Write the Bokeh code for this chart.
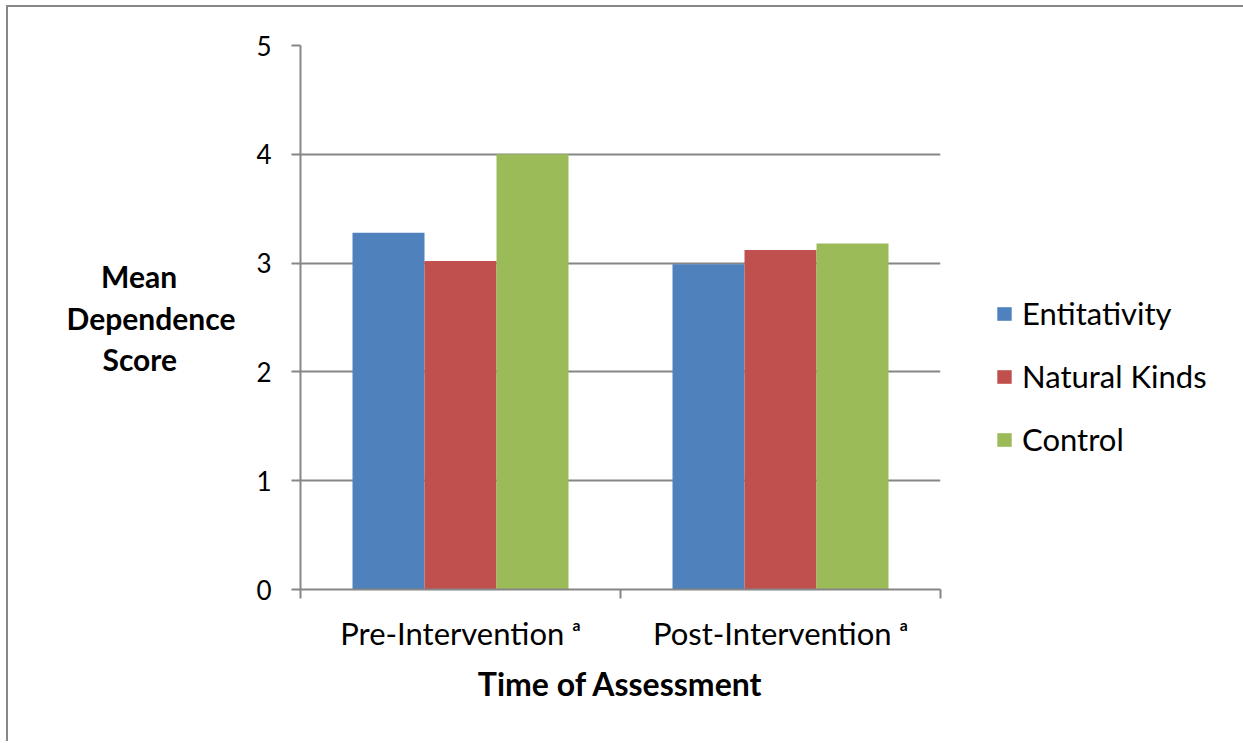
from bokeh.plotting import figure
from bokeh.models import (ColumnDataSource, Range1d, LinearAxis, FixedTicker, Grid,
                          Legend, LegendItem)
from bokeh.transform import dodge
from bokeh.embed import file_html
from bokeh.resources import INLINE

# ---- data ----
categories = ["Pre-Intervention \u1d43", "Post-Intervention \u1d43"]
series_names = ["Entitativity", "Natural Kinds", "Control"]
entitativity = [3.28, 2.99]
natural_kinds = [3.02, 3.12]
control = [4.00, 3.18]
y_ticks = [0, 1, 2, 3, 4, 5]
y_title_lines = ["Mean", "Dependence", "Score"]
x_title = "Time of Assessment"

colors = ["#4F81BD", "#C0504D", "#9BBB59"]
GRAY = "#868686"
FONT = "Lato"
NBSP = "\u00a0"
# trailing non-breaking spaces centre the shorter lines of the right-aligned title
y_title_pad = [8, 0, 8]

n = len(categories)
centers = [i + 0.5 for i in range(n)]
source = ColumnDataSource(dict(x=centers, cat=categories, ent=entitativity,
                               nat=natural_kinds, ctrl=control))

p = figure(x_range=Range1d(0, n), y_range=Range1d(0, 5),
           frame_width=640, frame_height=544,
           min_border_left=292, min_border_right=300,
           min_border_top=38, min_border_bottom=152,
           x_axis_location=None, y_axis_location=None,
           output_backend="svg", toolbar_location=None)
p.outline_line_color = None
p.background_fill_color = "white"
p.border_fill_color = "white"
p.styles = {"border-top": "2px solid #878787",
            "border-left": "2px solid #878787",
            "border-right": "2px solid #878787",
            "margin-left": "6px", "margin-top": "5px"}
# drop default grids
p.center = [r for r in p.center if not isinstance(r, Grid)]

# y axis
yax = LinearAxis(ticker=FixedTicker(ticks=y_ticks))
yax.axis_line_color = GRAY
yax.axis_line_width = 2
yax.major_tick_line_color = GRAY
yax.major_tick_line_width = 2
yax.major_tick_out = 9
yax.major_tick_in = 0
yax.minor_tick_line_color = None
yax.major_label_text_font = FONT
yax.major_label_text_font_size = "26px"
yax.major_label_text_color = "black"
yax.major_label_standoff = 20
yax.axis_label = "\n".join(line + NBSP * k for line, k in zip(y_title_lines, y_title_pad))
yax.axis_label_text_font = FONT
yax.axis_label_text_font_style = "bold"
yax.axis_label_text_font_size = "30px"
yax.axis_label_text_color = "black"
yax.axis_label_text_line_height = 1.14
yax.axis_label_standoff = 18
if "axis_label_orientation" in LinearAxis.properties():
    yax.axis_label_orientation = "horizontal"
p.add_layout(yax, "left")

# y grid
grid = Grid(dimension=1, ticker=FixedTicker(ticks=y_ticks))
grid.grid_line_color = GRAY
grid.grid_line_width = 2
p.add_layout(grid)

# x axis: line + boundary ticks
tax = LinearAxis(ticker=FixedTicker(ticks=list(range(n + 1))))
tax.axis_line_color = GRAY
tax.axis_line_width = 2
tax.major_tick_line_color = GRAY
tax.major_tick_line_width = 2
tax.major_tick_out = 9
tax.major_tick_in = 0
tax.minor_tick_line_color = None
tax.major_label_text_font_size = "0px"
tax.major_label_standoff = 0
tax.major_label_overrides = {i: "" for i in range(n + 1)}
p.add_layout(tax, "below")

# x axis: category labels + title
cax = LinearAxis(ticker=FixedTicker(ticks=centers))
cax.major_label_overrides = {c: lab for c, lab in zip(centers, categories)}
cax.axis_line_color = None
cax.major_tick_line_color = None
cax.major_tick_out = 0
cax.major_tick_in = 0
cax.minor_tick_line_color = None
cax.major_label_text_font = FONT
cax.major_label_text_font_size = "31px"
cax.major_label_text_color = "black"
cax.major_label_standoff = 15
cax.axis_label = x_title
cax.axis_label_text_font = FONT
cax.axis_label_text_font_style = "bold"
cax.axis_label_text_font_size = "32px"
cax.axis_label_text_color = "black"
cax.axis_label_standoff = 9
p.add_layout(cax, "below")

# bars
offsets = [-0.225, 0.0, 0.225]
fields = ["ent", "nat", "ctrl"]
renderers = []
for f, off, c in zip(fields, offsets, colors):
    r = p.vbar(x=dodge("x", off), top=f, width=0.225,
               bottom=0, source=source, fill_color=c, line_color=None)
    renderers.append(r)

# legend (right side panel)
legend = Legend(items=[LegendItem(label=nm, renderers=[r])
                       for nm, r in zip(series_names, renderers)],
                location=(55, 131))
legend.glyph_width = 18
legend.glyph_height = 17
legend.label_standoff = 9
legend.label_text_font = FONT
legend.label_text_font_size = "31px"
legend.label_text_color = "black"
legend.spacing = 25
legend.padding = 0
legend.margin = 55
legend.border_line_color = None
legend.background_fill_alpha = 0
p.add_layout(legend, "right")

open("out.html", "w").write(file_html(p, INLINE))
